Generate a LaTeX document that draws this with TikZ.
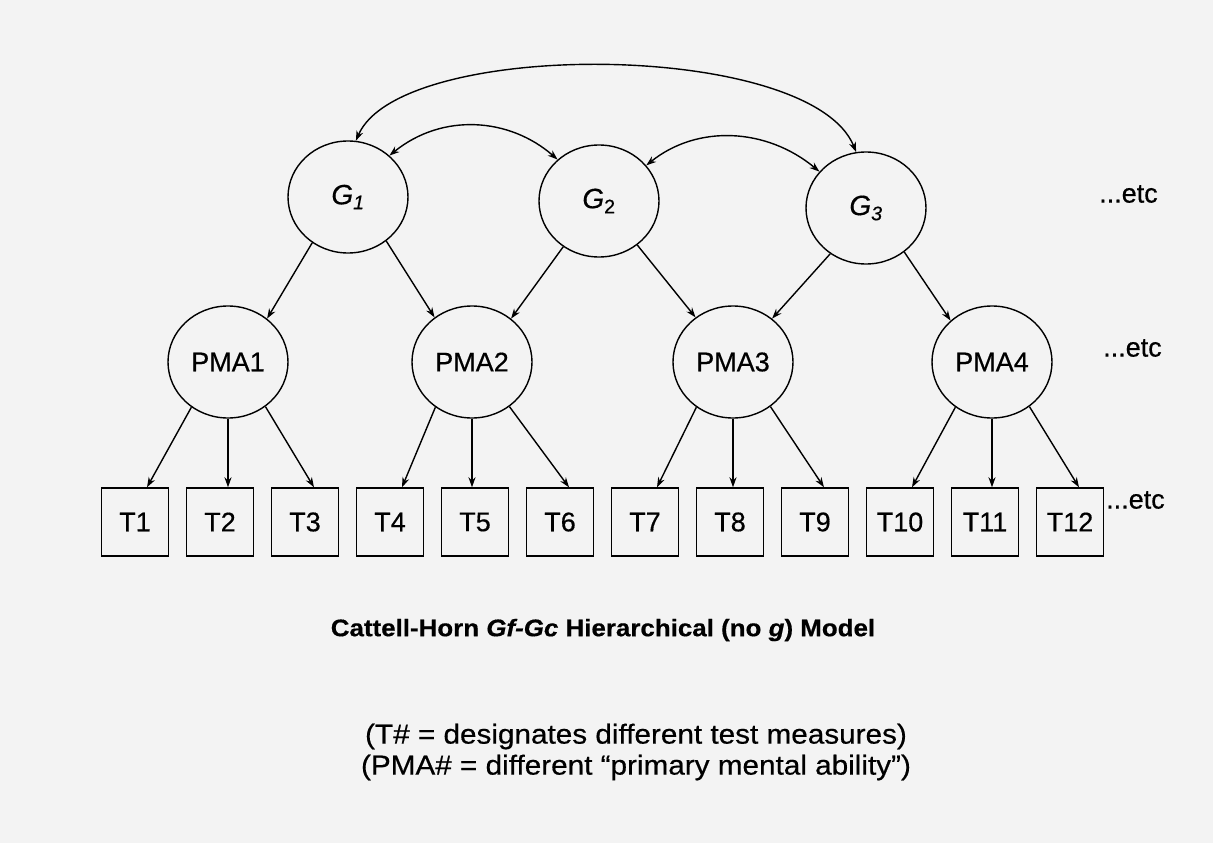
\documentclass[tikz,border=0pt]{standalone}
\usepackage{fontspec}
\setmainfont{Liberation Sans}[FakeBold=0.5]
\newfontfamily\capfont{Liberation Sans}[FakeBold=0.5,FakeStretch=1.08]
\usetikzlibrary{shapes.geometric,arrows.meta}
\definecolor{bg}{HTML}{F3F3F3}
\begin{document}
\begin{tikzpicture}[x=1pt,y=-1pt,
  latent/.style={ellipse,draw,line width=1.4pt,minimum width=120pt,minimum height=112pt,inner sep=0pt,font=\fontsize{27}{29}\selectfont},
  testbox/.style={rectangle,draw,line width=1.4pt,minimum width=67pt,minimum height=68pt,inner sep=0pt,font=\fontsize{27}{29}\selectfont},
  arr/.style={line width=1.4pt,-{Stealth[length=10pt,width=7pt]}},
  dblarr/.style={line width=1.4pt,{Stealth[length=10pt,width=7pt]}-{Stealth[length=10pt,width=7pt]}},
  etc/.style={anchor=west,inner sep=0pt,font=\fontsize{27}{29}\selectfont}
]
\fill[bg] (0,0) rectangle (1213,843);
\useasboundingbox (0,0) rectangle (1213,843);

% second-order factors
\node[latent,font=\fontsize{28}{30}\selectfont] (g1) at (348,197) {\textit{G}\textsubscript{\textit{1}}};
\node[latent,font=\fontsize{28}{30}\selectfont] (g2) at (599,201) {\textit{G}\textsubscript{2}};
\node[latent,font=\fontsize{28}{30}\selectfont] (g3) at (866,208) {\textit{G}\textsubscript{\textit{3}}};

% primary mental abilities
\node[latent] (pma1) at (228,362) {PMA1};
\node[latent] (pma2) at (472,362) {PMA2};
\node[latent] (pma3) at (733,362) {PMA3};
\node[latent] (pma4) at (992,362) {PMA4};

% test measures
\node[testbox] (t1)  at (135,522)  {T1};
\node[testbox] (t2)  at (220,522)  {T2};
\node[testbox] (t3)  at (305,522)  {T3};
\node[testbox] (t4)  at (390,522)  {T4};
\node[testbox] (t5)  at (475,522)  {T5};
\node[testbox] (t6)  at (560,522)  {T6};
\node[testbox] (t7)  at (645,522)  {T7};
\node[testbox] (t8)  at (730,522)  {T8};
\node[testbox] (t9)  at (815,522)  {T9};
\node[testbox] (t10) at (900,522)  {T10};
\node[testbox] (t11) at (985,522)  {T11};
\node[testbox] (t12) at (1070,522) {T12};

\node[etc] (etcg) at (1099,194) {...etc};
\node[etc] (etcp) at (1103,348) {...etc};
\node[etc] (etct) at (1106,500) {...etc};

% correlations among the broad factors
\draw[dblarr] (g1.82) .. controls +(44,-103) and +(-45,-112) .. (g3.100);
\draw[dblarr] (g1.45) .. controls +(53,-43) and +(-48,-42) .. (g2.135);
\draw[dblarr] (g2.37) .. controls +(51,-41) and +(-53,-44) .. (g3.142);

% broad factors to primary abilities
\draw[arr] (g1.232) -- (pma1.48);
\draw[arr] (g1.311) -- (pma2.130);
\draw[arr] (g2.232) -- (pma2.48);
\draw[arr] (g2.311) -- (pma3.130);
\draw[arr] (g3.232) -- (pma3.48);
\draw[arr] (g3.311) -- (pma4.135);

% primary abilities to tests
\draw[arr] (pma1.231) -- ([xshift=12pt]t1.north);
\draw[arr] (pma1.south) -- (pma1.south |- t2.north);
\draw[arr] (pma1.310) -- ([xshift=9pt]t3.north);
\draw[arr] (pma2.231) -- ([xshift=12pt]t4.north);
\draw[arr] (pma2.south) -- (pma2.south |- t5.north);
\draw[arr] (pma2.310) -- ([xshift=9pt]t6.north);
\draw[arr] (pma3.231) -- ([xshift=12pt]t7.north);
\draw[arr] (pma3.south) -- (pma3.south |- t8.north);
\draw[arr] (pma3.310) -- ([xshift=9pt]t9.north);
\draw[arr] (pma4.231) -- ([xshift=12pt]t10.north);
\draw[arr] (pma4.south) -- (pma4.south |- t11.north);
\draw[arr] (pma4.310) -- ([xshift=9pt]t12.north);

% captions
\node[font=\capfont\bfseries\fontsize{24}{28}\selectfont] (title) at (603,630)
  {Cattell-Horn \textit{Gf-Gc} Hierarchical (no \textit{g}) Model};
\node[align=center,font=\capfont\fontsize{27.5}{31}\selectfont] (notes) at (636,752)
  {(T\# = designates different test measures)\\(PMA\# = different “primary mental ability”)};
\end{tikzpicture}
\end{document}
